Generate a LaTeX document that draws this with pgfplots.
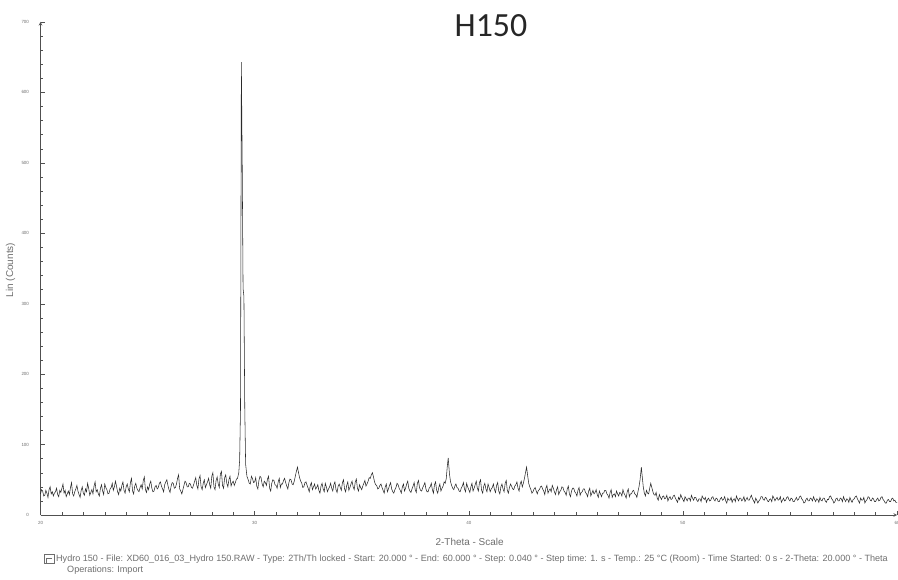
\documentclass[border=0pt]{standalone}
\usepackage{pgfplots}
\pgfplotsset{compat=1.18}
\usepackage{fontspec}
\setmainfont{Liberation Sans}
\newfontfamily\titlefont{Carlito}
\definecolor{scanline}{HTML}{2A2A2A}
\definecolor{labelgray}{HTML}{6E6E6E}
\definecolor{axisgray}{HTML}{505050}

\begin{document}
\begin{tikzpicture}[x=1bp,y=1bp]
\useasboundingbox (0,0) rectangle (898,580);

\node[font=\titlefont\fontsize{34}{40}\selectfont, text=black!85] at (491,554) {H150};

\begin{axis}[
  at={(40.5bp,65bp)}, anchor=south west,
  scale only axis, width=856.5bp, height=493bp,
  xmin=20, xmax=60, ymin=0, ymax=700,
  axis lines=left,
  axis line style={axisgray, line width=0.6bp},
  every axis x line/.append style={-{Stealth[length=4bp,width=3bp]}},
  every axis y line/.append style={-{Stealth[length=4bp,width=3bp]}},
  xtick={20,30,40,50,60}, ytick={0,100,...,700},
  minor x tick num=9, minor y tick num=4,
  tick align=inside,
  major tick length=4bp, minor tick length=2.5bp,
  tick style={axisgray, line width=0.4bp},
  tick label style={font=\fontsize{4.5}{5}\selectfont, text=labelgray},
  /pgf/number format/assume math mode=true,
  xticklabel style={yshift=-3bp},
  yticklabel style={xshift=-8bp},
  xlabel={2-Theta - Scale},
  ylabel={Lin (Counts)},
  label style={font=\fontsize{10}{11}\selectfont, text=labelgray},
  xlabel style={at={(axis description cs:0.501,-0.055)}, anchor=center},
  ylabel style={at={(axis description cs:-0.035,0.497)}, anchor=center},
  clip=false,
]
\addplot[scanline, line width=0.55bp] coordinates {
(20.0,30) (20.05,36) (20.1,34) (20.15,27) (20.2,28) (20.25,35) (20.3,31) (20.35,25) (20.4,36) (20.45,40) (20.5,30) (20.55,33) (20.6,27) (20.65,31) (20.7,33) (20.75,38) (20.8,29) (20.85,26) (20.9,35) (20.95,32)
(21.0,38) (21.05,44) (21.1,31) (21.15,35) (21.2,26) (21.25,30) (21.3,34) (21.35,29) (21.4,39) (21.45,46) (21.5,30) (21.55,27) (21.6,33) (21.65,37) (21.7,42) (21.75,34) (21.8,29) (21.85,25) (21.9,35) (21.95,40)
(22.0,31) (22.05,28) (22.1,37) (22.15,33) (22.2,45) (22.25,38) (22.3,28) (22.35,32) (22.4,36) (22.45,30) (22.5,41) (22.55,47) (22.6,33) (22.65,36) (22.7,30) (22.75,27) (22.8,38) (22.85,43) (22.9,34) (22.95,29)
(23.0,44) (23.05,39) (23.1,36) (23.15,30) (23.2,31) (23.25,37) (23.3,39) (23.35,45) (23.4,35) (23.45,40) (23.5,48) (23.55,41) (23.6,33) (23.65,29) (23.7,38) (23.75,34) (23.8,42) (23.85,47) (23.9,35) (23.95,31)
(24.0,40) (24.05,44) (24.1,37) (24.15,33) (24.2,46) (24.25,52) (24.3,34) (24.35,30) (24.4,41) (24.45,45) (24.5,38) (24.55,35) (24.6,33) (24.65,39) (24.7,43) (24.75,37) (24.8,49) (24.85,54) (24.9,36) (24.95,32)
(25.0,40) (25.05,36) (25.1,44) (25.15,48) (25.2,38) (25.25,33) (25.3,34) (25.35,40) (25.4,42) (25.45,37) (25.5,39) (25.55,45) (25.6,47) (25.65,41) (25.7,37) (25.75,33) (25.8,43) (25.85,47) (25.9,50) (25.95,42)
(26.0,36) (26.05,32) (26.1,41) (26.15,46) (26.2,45) (26.25,38) (26.3,39) (26.35,44) (26.4,52) (26.45,57) (26.5,37) (26.55,34) (26.6,30) (26.65,36) (26.7,42) (26.75,48) (26.8,46) (26.85,40) (26.9,40) (26.95,45)
(27.0,44) (27.05,39) (27.1,38) (27.15,43) (27.2,48) (27.25,53) (27.3,42) (27.35,37) (27.4,51) (27.45,56) (27.5,40) (27.55,36) (27.6,45) (27.65,50) (27.7,39) (27.75,43) (27.8,47) (27.85,52) (27.9,43) (27.95,38)
(28.0,55) (28.05,60) (28.1,40) (28.15,36) (28.2,49) (28.25,54) (28.3,44) (28.35,39) (28.4,58) (28.45,62) (28.5,42) (28.55,38) (28.6,53) (28.65,57) (28.7,45) (28.75,40) (28.8,50) (28.85,55) (28.9,41) (28.95,46)
(29.0,48) (29.05,42) (29.1,46) (29.15,51) (29.2,52) (29.26,60) (29.30,78) (29.34,150) (29.38,643) (29.42,500) (29.46,322) (29.50,310) (29.54,150) (29.58,72) (29.64,55) (29.7,50) (29.75,45) (29.8,44) (29.85,55) (29.9,52) (29.95,46)
(30.0,47) (30.05,53) (30.1,41) (30.15,37) (30.2,49) (30.25,55) (30.3,53) (30.35,44) (30.4,40) (30.45,48) (30.5,46) (30.55,42) (30.6,51) (30.65,55) (30.7,38) (30.75,34) (30.8,45) (30.85,50) (30.9,49) (30.95,43)
(31.0,42) (31.05,38) (31.1,47) (31.15,52) (31.2,39) (31.25,44) (31.3,44) (31.35,49) (31.4,52) (31.45,46) (31.5,41) (31.55,37) (31.6,46) (31.65,51) (31.7,50) (31.75,44) (31.8,43) (31.85,48) (31.9,55) (31.95,62)
(32.0,68) (32.05,60) (32.1,53) (32.15,48) (32.2,45) (32.25,39) (32.3,40) (32.35,46) (32.4,47) (32.45,42) (32.5,38) (32.55,33) (32.6,42) (32.65,46) (32.7,36) (32.75,40) (32.8,44) (32.85,37) (32.9,39) (32.95,43)
(33.0,35) (33.05,31) (33.1,41) (33.15,45) (33.2,37) (33.25,33) (33.3,45) (33.35,40) (33.4,33) (33.45,37) (33.5,40) (33.55,45) (33.6,38) (33.65,34) (33.7,43) (33.75,47) (33.8,36) (33.85,32) (33.9,41) (33.95,44)
(34.0,39) (34.05,35) (34.1,46) (34.15,50) (34.2,37) (34.25,33) (34.3,42) (34.35,47) (34.4,35) (34.45,39) (34.5,44) (34.55,48) (34.6,40) (34.65,36) (34.7,47) (34.75,51) (34.8,38) (34.85,34) (34.9,43) (34.95,39)
(35.0,36) (35.05,41) (35.1,45) (35.15,49) (35.2,41) (35.25,44) (35.3,48) (35.35,53) (35.4,52) (35.45,57) (35.5,60) (35.55,54) (35.6,47) (35.65,43) (35.7,42) (35.75,37) (35.8,38) (35.85,42) (35.9,44) (35.95,39)
(36.0,35) (36.05,31) (36.1,40) (36.15,44) (36.2,33) (36.25,37) (36.3,42) (36.35,46) (36.4,37) (36.45,33) (36.5,31) (36.55,36) (36.6,39) (36.65,45) (36.7,43) (36.75,38) (36.8,35) (36.85,31) (36.9,40) (36.95,44)
(37.0,34) (37.05,38) (37.1,44) (37.15,48) (37.2,38) (37.25,34) (37.3,32) (37.35,37) (37.4,41) (37.45,46) (37.5,36) (37.55,32) (37.6,45) (37.65,49) (37.7,39) (37.75,35) (37.8,34) (37.85,39) (37.9,42) (37.95,46)
(38.0,37) (38.05,33) (38.1,33) (38.15,38) (38.2,40) (38.25,45) (38.3,36) (38.35,31) (38.4,43) (38.45,47) (38.5,35) (38.55,31) (38.6,39) (38.65,44) (38.7,34) (38.75,38) (38.8,41) (38.85,47) (38.9,45) (38.95,52)
(39.0,70) (39.04,81) (39.1,58) (39.15,47) (39.2,42) (39.25,38) (39.3,36) (39.35,41) (39.4,44) (39.45,39) (39.5,38) (39.55,34) (39.6,33) (39.65,38) (39.7,41) (39.75,46) (39.8,37) (39.85,33) (39.9,45) (39.95,40)
(40.0,36) (40.05,32) (40.1,40) (40.15,45) (40.2,34) (40.25,38) (40.3,43) (40.35,48) (40.4,38) (40.45,34) (40.5,46) (40.55,50) (40.6,35) (40.65,31) (40.7,41) (40.75,45) (40.8,37) (40.85,33) (40.9,44) (40.95,39)
(41.0,33) (41.05,37) (41.1,39) (41.15,44) (41.2,36) (41.25,32) (41.3,42) (41.35,46) (41.4,34) (41.45,30) (41.5,40) (41.55,44) (41.6,37) (41.65,33) (41.7,45) (41.75,49) (41.8,35) (41.85,31) (41.9,39) (41.95,44)
(42.0,41) (42.05,37) (42.1,36) (42.15,41) (42.2,43) (42.25,47) (42.3,38) (42.35,34) (42.4,44) (42.45,48) (42.5,40) (42.55,45) (42.6,52) (42.65,60) (42.7,68) (42.75,56) (42.8,45) (42.85,40) (42.9,36) (42.95,31)
(43.0,33) (43.05,37) (43.1,39) (43.15,34) (43.2,30) (43.25,35) (43.3,36) (43.35,40) (43.4,41) (43.45,37) (43.5,34) (43.55,29) (43.6,38) (43.65,42) (43.7,31) (43.75,35) (43.8,37) (43.85,33) (43.9,42) (43.95,38)
(44.0,33) (44.05,29) (44.1,36) (44.15,40) (44.2,29) (44.25,33) (44.3,35) (44.35,40) (44.4,39) (44.45,34) (44.5,32) (44.55,28) (44.6,37) (44.65,41) (44.7,30) (44.75,26) (44.8,34) (44.85,38) (44.9,38) (44.95,33)
(45.0,31) (45.05,27) (45.1,35) (45.15,39) (45.2,28) (45.25,32) (45.3,33) (45.35,37) (45.4,37) (45.45,32) (45.5,30) (45.55,26) (45.6,34) (45.65,38) (45.7,27) (45.75,31) (45.8,35) (45.85,30) (45.9,32) (45.95,36)
(46.0,29) (46.05,25) (46.1,34) (46.15,30) (46.2,26) (46.25,31) (46.3,31) (46.35,35) (46.4,35) (46.45,30) (46.5,28) (46.55,24) (46.6,32) (46.65,36) (46.7,25) (46.75,29) (46.8,30) (46.85,26) (46.9,34) (46.95,30)
(47.0,27) (47.05,32) (47.1,31) (47.15,27) (47.2,36) (47.25,31) (47.3,28) (47.35,24) (47.4,33) (47.45,37) (47.5,26) (47.55,30) (47.6,30) (47.65,34) (47.7,35) (47.75,30) (47.8,29) (47.85,25) (47.9,33) (47.95,40)
(48.0,50) (48.06,68) (48.1,55) (48.15,40) (48.2,31) (48.25,27) (48.3,35) (48.35,31) (48.4,30) (48.45,38) (48.5,45) (48.55,39) (48.6,33) (48.65,29) (48.7,28) (48.75,32) (48.8,24) (48.85,21) (48.9,29) (48.95,25)
(49.0,22) (49.05,26) (49.1,27) (49.15,23) (49.2,24) (49.25,28) (49.3,20) (49.35,24) (49.4,26) (49.45,22) (49.5,23) (49.55,27) (49.6,28) (49.65,24) (49.7,21) (49.75,18) (49.8,25) (49.85,22) (49.9,29) (49.95,25)
(50.0,22) (50.05,19) (50.1,26) (50.15,23) (50.2,20) (50.25,24) (50.3,24) (50.35,20) (50.4,28) (50.45,24) (50.5,21) (50.55,25) (50.6,25) (50.65,21) (50.7,19) (50.75,23) (50.8,23) (50.85,19) (50.9,27) (50.95,24)
(51.0,22) (51.05,25) (51.1,18) (51.15,22) (51.2,24) (51.25,20) (51.3,21) (51.35,25) (51.4,26) (51.45,22) (51.5,20) (51.55,24) (51.6,23) (51.65,19) (51.7,19) (51.75,23) (51.8,25) (51.85,21) (51.9,22) (51.95,26)
(52.0,20) (52.05,17) (52.1,24) (52.15,21) (52.2,21) (52.25,25) (52.3,18) (52.35,22) (52.4,23) (52.45,19) (52.5,27) (52.55,23) (52.6,20) (52.65,24) (52.7,24) (52.75,20) (52.8,22) (52.85,26) (52.9,19) (52.95,22)
(53.0,25) (53.05,21) (53.1,21) (53.15,25) (53.2,28) (53.25,23) (53.3,20) (53.35,17) (53.4,24) (53.45,21) (53.5,17) (53.55,20) (53.6,22) (53.65,26) (53.7,26) (53.75,22) (53.8,21) (53.85,25) (53.9,24) (53.95,20)
(54.0,19) (54.05,22) (54.1,23) (54.15,19) (54.2,27) (54.25,24) (54.3,20) (54.35,23) (54.4,25) (54.45,21) (54.5,22) (54.55,26) (54.6,18) (54.65,21) (54.7,24) (54.75,20) (54.8,21) (54.85,25) (54.9,26) (54.95,22)
(55.0,20) (55.05,24) (55.1,23) (55.15,19) (55.2,19) (55.25,22) (55.3,25) (55.35,21) (55.4,22) (55.45,26) (55.5,27) (55.55,23) (55.6,21) (55.65,17) (55.7,18) (55.75,22) (55.8,24) (55.85,20) (55.9,20) (55.95,24)
(56.0,23) (56.05,20) (56.1,26) (56.15,22) (56.2,19) (56.25,23) (56.3,22) (56.35,18) (56.4,25) (56.45,21) (56.5,20) (56.55,24) (56.6,24) (56.65,20) (56.7,18) (56.75,22) (56.8,22) (56.85,26) (56.9,27) (56.95,23)
(57.0,21) (57.05,17) (57.1,19) (57.15,23) (57.2,24) (57.25,20) (57.3,20) (57.35,24) (57.4,23) (57.45,19) (57.5,26) (57.55,22) (57.6,19) (57.65,23) (57.7,22) (57.75,18) (57.8,25) (57.85,21) (57.9,18) (57.95,22)
(58.0,23) (58.05,26) (58.1,27) (58.15,23) (58.2,20) (58.25,17) (58.3,24) (58.35,21) (58.4,21) (58.45,25) (58.5,17) (58.55,20) (58.6,22) (58.65,26) (58.7,25) (58.75,21) (58.8,20) (58.85,24) (58.9,23) (58.95,19)
(59.0,19) (59.05,22) (59.1,24) (59.15,20) (59.2,21) (59.25,25) (59.3,26) (59.35,22) (59.4,20) (59.45,17) (59.5,17) (59.55,21) (59.6,22) (59.65,19) (59.7,19) (59.75,23) (59.8,24) (59.85,20) (59.9,21) (59.95,18)
(60.0,18)
};
\end{axis}

% instrument footer: scan parameters
\draw[labelgray, line width=0.4bp] (44,17) rectangle (54,26);
\draw[labelgray, line width=0.4bp] (46,17) -- (46,22) -- (52,22);
\node[anchor=base west, font=\fontsize{9.1}{10}\selectfont, text=labelgray, inner sep=0pt] at (56,18)
  {Hydro 150 - File: XD60\_016\_03\_Hydro 150.RAW - Type: 2Th/Th locked - Start: 20.000 ° - End: 60.000 ° - Step: 0.040 ° - Step time: 1. s - Temp.: 25 °C (Room) - Time Started: 0 s - 2-Theta: 20.000 ° - Theta};
\node[anchor=base west, font=\fontsize{9.1}{10}\selectfont, text=labelgray, inner sep=0pt] at (67,7.5)
  {Operations: Import};
\end{tikzpicture}
\end{document}
